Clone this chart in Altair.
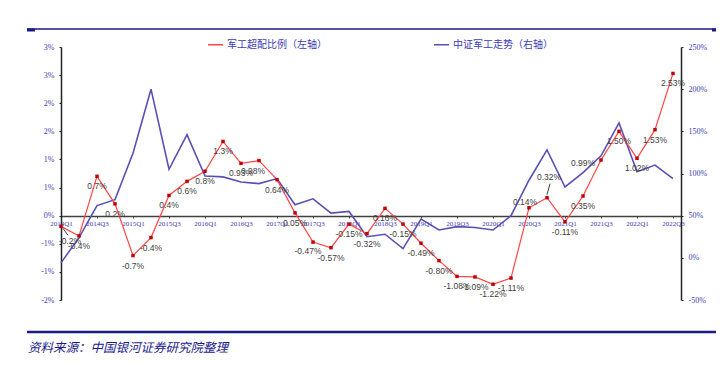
import altair as alt
import pandas as pd

quarters = ["2014Q1", "2014Q2", "2014Q3", "2014Q4", "2015Q1", "2015Q2", "2015Q3", "2015Q4",
            "2016Q1", "2016Q2", "2016Q3", "2016Q4", "2017Q1", "2017Q2", "2017Q3", "2017Q4",
            "2018Q1", "2018Q2", "2018Q3", "2018Q4", "2019Q1", "2019Q2", "2019Q3", "2019Q4",
            "2020Q1", "2020Q2", "2020Q3", "2020Q4", "2021Q1", "2021Q2", "2021Q3", "2021Q4",
            "2022Q1", "2022Q2", "2022Q3"]

# 军工超配比例（左轴）, %
overweight = [-0.19, -0.36, 0.70, 0.21, -0.71, -0.39, 0.36, 0.61, 0.79, 1.32,
              0.93, 0.98, 0.64, 0.05, -0.47, -0.57, -0.15, -0.32, 0.13, -0.15,
              -0.49, -0.80, -1.08, -1.09, -1.22, -1.11, 0.14, 0.32, -0.11, 0.35,
              0.99, 1.50, 1.02, 1.53, 2.53]

# 中证军工走势（右轴）, %
index_trend = [-6, 24, 62, 69, 124, 200, 105, 146, 97, 96,
               90, 88, 94, 63, 70, 53, 55, 25, 28, 11,
               46, 33, 37, 36, 33, 50, 92, 128, 84, 101,
               121, 160, 102, 110, 94]

series_names = ["军工超配比例（左轴）", "中证军工走势（右轴）"]
source_note = "资料来源：中国银河证券研究院整理"

left_ticks = [-1.5, -1.0, -0.5, 0.0, 0.5, 1.0, 1.5, 2.0, 2.5, 3.0]
right_ticks = [-50, 0, 50, 100, 150, 200, 250]

df = pd.DataFrame({"quarter": quarters, "idx": list(range(len(quarters))),
                   "ow": overweight, "trend": index_trend})
df["label"] = [f"{v:.1f}%" if i < 10 else f"{v:.2f}%" for i, v in enumerate(overweight)]

AXIS_BLUE = "#3c3cb4"
RED_LINE = "#ff4545"
RED_MARK = "#c00000"
BLUE_LINE = "#5a50b4"
NAVY = "#1a1a88"

label_array = "[" + ",".join(f"'{q}'" for q in quarters) + "]"

x_enc = alt.X(
    "idx:Q",
    scale=alt.Scale(domain=[0, 34.444], nice=False, zero=False),
    axis=alt.Axis(
        values=list(range(0, len(quarters), 2)),
        labelExpr=label_array + "[datum.value]",
        title=None, grid=False, offset=-84,
        domainColor="#404040", domainWidth=1.5,
        tickColor="#404040", tickSize=2,
        labelFont="Liberation Serif", labelFontSize=7, labelColor=AXIS_BLUE,
        labelPadding=1, labelFlush=False, labelOverlap=False,
    ),
)

y_left = alt.Y(
    "ow:Q",
    scale=alt.Scale(domain=[-1.5, 3.0], nice=False),
    axis=alt.Axis(
        orient="left", values=left_ticks,
        labelExpr="(datum.value < 0 ? '-' : '') + round(abs(datum.value)) + '%'",
        title=None, grid=False, domainColor="#222222", domainWidth=1.5,
        tickColor="#222222", tickSize=2,
        labelFont="Liberation Serif", labelFontSize=8, labelColor=AXIS_BLUE,
        labelPadding=5,
    ),
)

y_right = alt.Y(
    "trend:Q",
    scale=alt.Scale(domain=[-50, 250], nice=False),
    axis=alt.Axis(
        orient="right", values=right_ticks,
        labelExpr="datum.value + '%'",
        title=None, grid=False, domainColor="#222222", domainWidth=1.5,
        tickColor="#222222", tickSize=2,
        labelFont="Liberation Serif", labelFontSize=8, labelColor=AXIS_BLUE,
        labelPadding=5,
    ),
)

color_enc = alt.Color(
    "series:N",
    scale=alt.Scale(domain=series_names, range=[RED_LINE, BLUE_LINE]),
    legend=alt.Legend(
        orient="none", legendX=146, legendY=-11, direction="horizontal",
        title=None, symbolType="stroke", symbolSize=225, symbolStrokeWidth=1.5,
        labelFont="Noto Sans CJK SC", labelFontSize=10, labelColor=AXIS_BLUE,
        labelOffset=3, columnPadding=104, labelLimit=200,
    ),
)

base = alt.Chart(df)

blue_line = base.transform_calculate(series=f"'{series_names[1]}'").mark_line(
    strokeWidth=1.6
).encode(x=x_enc, y=y_right, color=color_enc)

red_line = base.transform_calculate(series=f"'{series_names[0]}'").mark_line(
    strokeWidth=1.2
).encode(x=x_enc, y=y_left, color=color_enc)

red_pts = base.mark_square(size=12, color=RED_MARK, opacity=1).encode(x=x_enc, y=y_left)

label_style = dict(font="Liberation Sans", fontSize=8.5, color="#404040",
                   baseline="middle", align="center")

special = [0, 11, 14, 26, 27, 30]
labels_main = base.transform_filter(
    "indexof([" + ",".join(map(str, special)) + "], datum.idx) < 0"
).mark_text(dy=10, **label_style).encode(x=x_enc, y=y_left, text="label:N")


def special_label(i, dx, dy):
    return base.transform_filter(f"datum.idx == {i}").mark_text(
        dx=dx, dy=dy, **label_style).encode(x=x_enc, y=y_left, text="label:N")


labels_special = [
    special_label(0, 9, 15),
    special_label(11, -6, 10),
    special_label(14, -5, 9),
    special_label(26, -4, -6),
    special_label(27, 2, -21),
    special_label(30, -18, 3),
]


def leader(i, xo, yo, x2o, y2o):
    return base.transform_filter(f"datum.idx == {i}").mark_rule(
        color="#404040", strokeWidth=1, xOffset=xo, yOffset=yo, x2Offset=x2o, y2Offset=y2o
    ).encode(x=x_enc, x2="idx:Q", y=y_left, y2="ow:Q")


leaders = [leader(0, 2, 2, 7, 9), leader(27, 0, -3, 3, -14)]

left_layer = alt.layer(red_line, *leaders, red_pts, labels_main, *labels_special)

one = alt.Chart(pd.DataFrame({"k": [0]}))
top_rule = one.mark_rule(color=NAVY, strokeWidth=1.5).encode(
    x=alt.value(-34), x2=alt.value(656), y=alt.value(-18))
top_cap_l = one.mark_rule(color=NAVY, strokeWidth=3).encode(
    x=alt.value(-34), x2=alt.value(-26), y=alt.value(-17))
top_cap_r = one.mark_rule(color=NAVY, strokeWidth=3).encode(
    x=alt.value(651), x2=alt.value(659), y=alt.value(-17))
bottom_rule = one.mark_rule(color=NAVY, strokeWidth=2.5).encode(
    x=alt.value(-34), x2=alt.value(660), y=alt.value(285))
note = one.mark_text(align="left", baseline="middle", font="Noto Sans CJK SC",
                     fontSize=12.5, fontStyle="italic", color=NAVY).encode(
    x=alt.value(-33), y=alt.value(301), text=alt.value(source_note))

chart = alt.layer(blue_line, left_layer).resolve_scale(y="independent")
chart = alt.layer(chart, top_rule, top_cap_l, top_cap_r, bottom_rule, note).properties(
    width=620, height=253,
    padding={"left": 53, "top": 39, "right": 35, "bottom": 57},
    autosize=alt.AutoSizeParams(type="none"),
    background="white",
).configure_view(stroke=None)

chart.save("out.html", embed_options={"renderer": "svg", "actions": False})
